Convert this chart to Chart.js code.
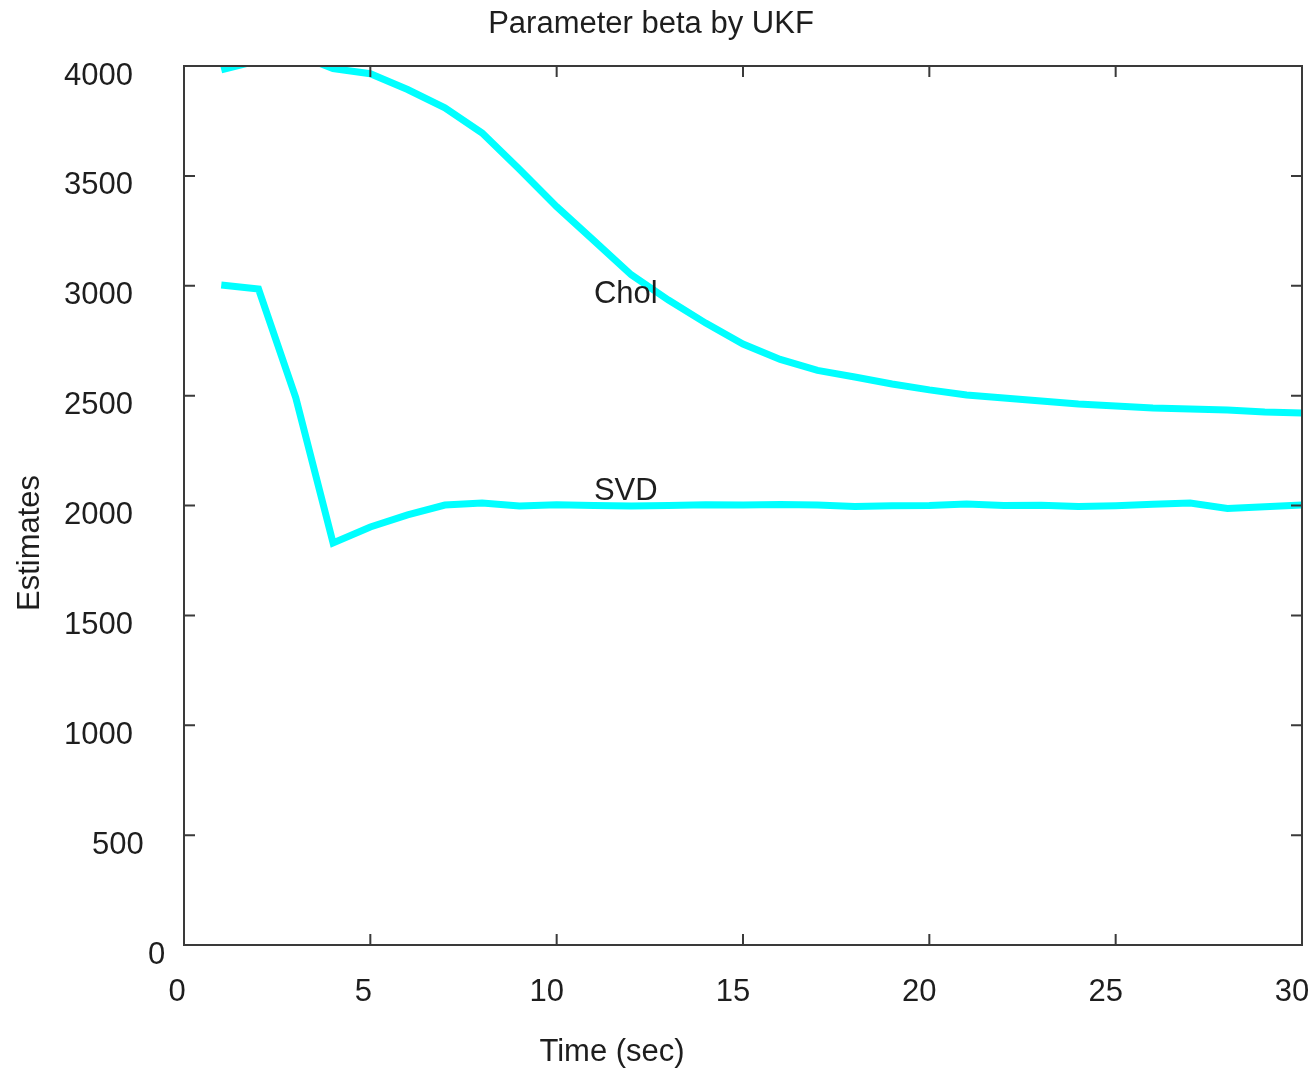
<!DOCTYPE html>
<html lang="en">
<head>
    <meta charset="UTF-8">
    <title>Parameter beta by UKF</title>
    <script src="https://cdn.jsdelivr.net/npm/chart.js"></script>
    <style>
        html, body { margin: 0; padding: 0; background: #fff; }
    </style>
</head>
<body>
    <canvas id="myChart" width="1311" height="1071"></canvas>
    <script>
        // data
        const timeSec = [1, 2, 3, 4, 5, 6, 7, 8, 9, 10, 11, 12, 13, 14, 15,
                         16, 17, 18, 19, 20, 21, 22, 23, 24, 25, 26, 27, 28, 29, 30];
        const cholEst = [3982, 4025, 4055, 3988, 3965, 3893, 3810, 3695, 3530, 3360,
                         3205, 3050, 2935, 2830, 2735, 2665, 2615, 2585, 2553, 2526,
                         2503, 2489, 2476, 2462, 2453, 2444, 2439, 2435, 2426, 2421];
        const svdEst = [3003, 2985, 2490, 1830, 1902, 1957, 2002, 2011, 1998, 2003,
                        2000, 1998, 2000, 2003, 2002, 2004, 2002, 1996, 1999, 2000,
                        2007, 2000, 2001, 1995, 1999, 2006, 2011, 1986, 1994, 2002];
        const xTicks = [0, 5, 10, 15, 20, 25, 30];
        const yTicks = [0, 500, 1000, 1500, 2000, 2500, 3000, 3500, 4000];
        const curveLabels = [
            { text: 'Chol', x: 11, y: 2960 },
            { text: 'SVD', x: 11, y: 2063 }
        ];

        const FONT = '31px "Liberation Sans", Arial, sans-serif';
        const TEXT = '#1e1e1e';

        // gnuplot style frame: box, inward ticks on all sides, texts
        const gnuplotFrame = {
            id: 'gnuplotFrame',
            afterDatasetsDraw(chart) {
                const { ctx, chartArea: a, scales: { x, y } } = chart;
                ctx.save();
                ctx.strokeStyle = '#3a3a3a';
                ctx.lineWidth = 2;
                ctx.strokeRect(a.left, a.top, a.right - a.left, a.bottom - a.top);

                ctx.beginPath();
                xTicks.forEach(v => {
                    const px = x.getPixelForValue(v);
                    ctx.moveTo(px, a.bottom); ctx.lineTo(px, a.bottom - 11);
                    ctx.moveTo(px, a.top); ctx.lineTo(px, a.top + 11);
                });
                yTicks.forEach(v => {
                    const py = y.getPixelForValue(v);
                    ctx.moveTo(a.left, py); ctx.lineTo(a.left + 11, py);
                    ctx.moveTo(a.right, py); ctx.lineTo(a.right - 11, py);
                });
                ctx.stroke();

                ctx.fillStyle = TEXT;
                ctx.font = FONT;
                ctx.textBaseline = 'middle';

                // y tick labels
                ctx.textAlign = 'left';
                yTicks.forEach(v => {
                    const s = String(v);
                    ctx.fillText(s, a.left - 8 - 28 * s.length, y.getPixelForValue(v) + 10);
                });

                // x tick labels
                ctx.textAlign = 'center';
                xTicks.forEach(v => {
                    const s = String(v);
                    ctx.fillText(s, x.getPixelForValue(v) - 4 - 3 * s.length, a.bottom + 47);
                });

                // curve labels
                ctx.textAlign = 'left';
                curveLabels.forEach(l => {
                    ctx.fillText(l.text, x.getPixelForValue(l.x), y.getPixelForValue(l.y));
                });

                // titles
                ctx.textAlign = 'center';
                ctx.fillText('Parameter beta by UKF', 651, 24);
                ctx.fillText('Time (sec)', 612, 1052);
                ctx.save();
                ctx.translate(30, 543);
                ctx.rotate(-Math.PI / 2);
                ctx.fillText('Estimates', 0, 0);
                ctx.restore();

                ctx.restore();
            }
        };

        const ctx = document.getElementById('myChart').getContext('2d');

        const myChart = new Chart(ctx, {
            type: 'line',
            data: {
                datasets: [
                    {
                        label: 'Chol',
                        data: timeSec.map((t, i) => ({ x: t, y: cholEst[i] })),
                        borderColor: '#00ffff',
                        borderWidth: 7,
                        pointRadius: 0,
                        tension: 0,
                        clip: 0
                    },
                    {
                        label: 'SVD',
                        data: timeSec.map((t, i) => ({ x: t, y: svdEst[i] })),
                        borderColor: '#00ffff',
                        borderWidth: 7,
                        pointRadius: 0,
                        tension: 0,
                        clip: 0
                    }
                ]
            },
            options: {
                responsive: false,
                animation: false,
                devicePixelRatio: 1,
                events: [],
                layout: { padding: { top: 66, right: 9, left: 0, bottom: 0 } },
                plugins: {
                    legend: { display: false },
                    tooltip: { enabled: false }
                },
                scales: {
                    x: {
                        type: 'linear',
                        min: 0,
                        max: 30,
                        ticks: { display: false, stepSize: 5 },
                        grid: { display: false },
                        border: { display: false },
                        afterFit: s => { s.height = 126; }
                    },
                    y: {
                        min: 0,
                        max: 4000,
                        ticks: { display: false, stepSize: 500 },
                        grid: { display: false },
                        border: { display: false },
                        afterFit: s => { s.width = 184; }
                    }
                }
            },
            plugins: [gnuplotFrame]
        });
    </script>
</body>
</html>
